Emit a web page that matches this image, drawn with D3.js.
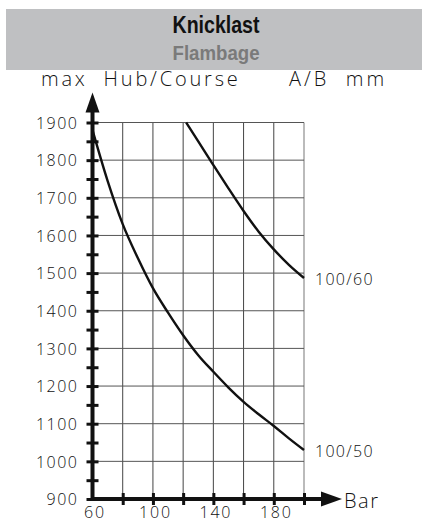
<!DOCTYPE html>
<html><head><meta charset="utf-8">
<script src="https://cdn.jsdelivr.net/npm/d3@7"></script>
<style>
html,body{margin:0;padding:0;background:#fff;}
svg{display:block;}
.lt{font-family:"Open Sans","DejaVu Sans",sans-serif;font-weight:300;fill:#111;}
</style>
</head><body>
<svg id="c" width="422" height="524"></svg>
<script>
// ---- data ----
const titleMain = "Knicklast";
const titleSub = "Flambage";
const yTitle = "max  Hub/Course";
const unitTitle = "A/B  mm";
const xTitle = "Bar";
const xTicks = [80, 100, 120, 140, 160, 180, 200];
const xLabels = [60, 100, 140, 180];
const yTicks = [900,950,1000,1050,1100,1150,1200,1250,1300,1350,1400,1450,1500,1550,1600,1650,1700,1750,1800,1850,1900];
const yLabels = [900,1000,1100,1200,1300,1400,1500,1600,1700,1800,1900];
const gridX = [80, 100, 120, 140, 160, 180, 200];
const gridY = [1000,1100,1200,1300,1400,1500,1600,1700,1800,1900];
const seriesNames = ["100/60", "100/50"];
const bar60 = [122,130,140,150,160,170,180,190,200];
const stroke60 = [1900,1850,1787,1725,1665,1610,1563,1522,1487];
const bar50 = [60,70,80,90,100,110,120,130,140,150,160,170,180,190,200];
const stroke50 = [1880,1745,1630,1540,1460,1395,1335,1282,1238,1196,1158,1125,1094,1061,1030];

const svg = d3.select("#c");
const x = d3.scaleLinear().domain([60, 200]).range([92.5, 304]);
const y = d3.scaleLinear().domain([900, 1900]).range([499, 122.5]);

// header band
svg.append("rect").attr("x", 6).attr("y", 9).attr("width", 416).attr("height", 61).attr("fill", "#bfc0c2");
svg.append("text").attr("x", 216).attr("y", 33).attr("text-anchor", "middle")
  .attr("font-family", "'Liberation Sans','Arial',sans-serif").attr("font-weight", "bold")
  .attr("font-size", 23).attr("fill", "#111").attr("textLength", 87).attr("lengthAdjust", "spacingAndGlyphs")
  .text(titleMain);
svg.append("text").attr("x", 216).attr("y", 60).attr("text-anchor", "middle")
  .attr("font-family", "'Liberation Sans','Arial',sans-serif").attr("font-weight", "bold")
  .attr("font-size", 21).attr("fill", "#7a7a7a").attr("textLength", 87).attr("lengthAdjust", "spacingAndGlyphs")
  .text(titleSub);

svg.append("text").attr("class", "lt").attr("x", 41).attr("y", 86)
  .style("font-size", "20px").style("letter-spacing", "2.8px").style("white-space", "pre").text(yTitle);
svg.append("text").attr("class", "lt").attr("x", 289).attr("y", 86)
  .style("font-size", "20px").style("letter-spacing", "3px").style("white-space", "pre").text(unitTitle);

// grid
const g = svg.append("g");
g.selectAll("line.gx").data(gridX).join("line").attr("class", "gx")
  .attr("x1", d => x(d)).attr("x2", d => x(d)).attr("y1", y(900)).attr("y2", y(1900))
  .attr("stroke", d => d === 200 ? "#aaa" : "#444").attr("stroke-width", d => d === 200 ? 1.6 : 1);
g.selectAll("line.gy").data(gridY).join("line").attr("class", "gy")
  .attr("x1", x(60)).attr("x2", x(200)).attr("y1", d => y(d)).attr("y2", d => y(d))
  .attr("stroke", "#555").attr("stroke-width", 1);

// curves
const line = d3.line().x(d => x(d[0])).y(d => y(d[1])).curve(d3.curveMonotoneX);
svg.append("path").datum(bar60.map((b, i) => [b, stroke60[i]])).attr("d", line)
  .attr("fill", "none").attr("stroke", "#111").attr("stroke-width", 2.4);
svg.append("path").datum(bar50.map((b, i) => [b, stroke50[i]])).attr("d", line)
  .attr("fill", "none").attr("stroke", "#111").attr("stroke-width", 2.4);

// series labels
svg.append("text").attr("class", "lt").attr("x", x(200) + 11).attr("y", y(stroke60[stroke60.length - 1]) + 7)
  .style("font-size", "16px").style("letter-spacing", "1.3px").text(seriesNames[0]);
svg.append("text").attr("class", "lt").attr("x", x(200) + 11).attr("y", y(stroke50[stroke50.length - 1]) + 7)
  .style("font-size", "16px").style("letter-spacing", "1.3px").text(seriesNames[1]);

// y axis
const ya = svg.append("g").attr("transform", `translate(${x(60)},0)`)
  .call(d3.axisLeft(y).tickValues(yTicks).tickSize(6).tickPadding(8)
    .tickFormat(d => yLabels.includes(d) ? String(d) : ""));
ya.select(".domain").remove();
ya.selectAll(".tick line").attr("x1", -6).attr("x2", 6).attr("stroke", "#111").attr("stroke-width", 3);
ya.selectAll(".tick text").attr("class", "lt").style("font-size", "16px").style("letter-spacing", "1.5px")
  .attr("dy", "0.36em").attr("fill", "#111");

// x axis
const xa = svg.append("g").attr("transform", `translate(0,${y(900)})`)
  .call(d3.axisBottom(x).tickValues(xTicks).tickSize(6).tickFormat(""));
xa.select(".domain").remove();
xa.selectAll(".tick line").attr("y1", -6).attr("y2", 6).attr("stroke", "#111").attr("stroke-width", 3);
const xl = svg.append("g").attr("transform", `translate(0,${y(900)})`)
  .call(d3.axisBottom(x).tickValues(xLabels).tickSize(0).tickPadding(8).tickFormat(d3.format("d")));
xl.select(".domain").remove();
xl.selectAll(".tick text").attr("class", "lt").style("font-size", "16px").style("letter-spacing", "1.8px").attr("dx", 2).attr("fill", "#111");

// axis lines with arrows
const ax0 = x(60), ay0 = y(900), ytop = y(1900) - 12, xend = x(200) + 18;
svg.append("path").attr("d", `M${ax0},${ytop}V${ay0}H${xend}`)
  .attr("fill", "none").attr("stroke", "#111").attr("stroke-width", 4).attr("stroke-linejoin", "miter");
svg.append("path").attr("d", `M${ax0},${y(1900) - 30}L${ax0 - 7},${y(1900) - 10}L${ax0 + 7},${y(1900) - 10}Z`).attr("fill", "#111");
svg.append("path").attr("d", `M${x(200) + 38},${ay0}L${x(200) + 17},${ay0 - 7.5}L${x(200) + 17},${ay0 + 7.5}Z`).attr("fill", "#111");
svg.append("text").attr("class", "lt").attr("x", x(200) + 40).attr("y", ay0 + 9)
  .style("font-size", "20px").style("letter-spacing", "1.5px").text(xTitle);
</script>
</body></html>
